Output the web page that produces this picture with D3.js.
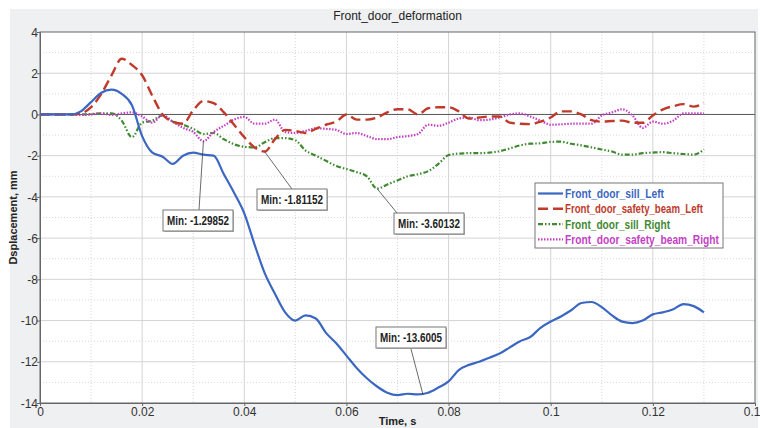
<!DOCTYPE html>
<html>
<head>
<meta charset="utf-8">
<script src="https://cdn.jsdelivr.net/npm/d3@7"></script>
<style>
  body { margin: 0; background: #fff; }
  text { font-family: "Liberation Sans", Arial, sans-serif; }
</style>
</head>
<body>
<svg id="chart"></svg>
<script>
// Time samples (s)
var times = [0, 0.002, 0.004, 0.006, 0.008, 0.010, 0.012, 0.014, 0.016, 0.018,
  0.020, 0.022, 0.024, 0.026, 0.028, 0.030, 0.032, 0.034, 0.036, 0.038,
  0.040, 0.042, 0.044, 0.046, 0.048, 0.050, 0.052, 0.054, 0.056, 0.058,
  0.060, 0.062, 0.064, 0.066, 0.068, 0.070, 0.072, 0.074, 0.076, 0.078,
  0.080, 0.082, 0.084, 0.086, 0.088, 0.090, 0.092, 0.094, 0.096, 0.098,
  0.100, 0.102, 0.104, 0.106, 0.108, 0.110, 0.112, 0.114, 0.116, 0.118,
  0.120, 0.122, 0.124, 0.126, 0.128, 0.130];

var sillLeft = [0, 0, 0, 0, 0.15, 0.6, 1.05, 1.2, 1.0, 0.45,
  -1.05, -1.85, -2.05, -2.4, -2.0, -1.85, -1.95, -2.0, -2.9, -3.8,
  -4.8, -6.3, -7.7, -8.7, -9.6, -10.0, -9.75, -9.9, -10.6, -11.1,
  -11.7, -12.3, -12.8, -13.2, -13.5, -13.62, -13.55, -13.58, -13.5, -13.25,
  -12.95, -12.4, -12.15, -12.0, -11.8, -11.6, -11.3, -11.0, -10.8, -10.35,
  -10.05, -9.8, -9.5, -9.15, -9.1, -9.35, -9.75, -10.05, -10.12, -10.0,
  -9.7, -9.6, -9.45, -9.2, -9.3, -9.6];

var beamLeft = [0, 0, 0, 0, 0.05, 0.35, 1.0, 1.9, 2.7, 2.4,
  1.9, 0.9, 0.0, -0.35, -0.45, 0.2, 0.65, 0.55, 0.1, -0.5,
  -1.1, -1.6, -1.8, -1.2, -0.75, -0.8, -0.9, -0.7, -0.5, -0.35,
  0.0, -0.25, -0.25, -0.15, 0.1, 0.25, 0.25, 0.0, 0.3, 0.35,
  0.35, 0.15, -0.2, -0.15, -0.1, -0.1, -0.4, -0.45, -0.47, -0.35,
  -0.15, 0.15, 0.15, 0.0, -0.28, -0.35, -0.32, -0.3, -0.4, -0.4,
  -0.05, 0.25, 0.4, 0.5, 0.38, 0.55];

var sillRight = [0, 0, 0, 0, 0, 0.02, 0.05, 0.05, -0.3, -1.1,
  -0.4, -0.3, -0.05, -0.35, -0.5, -0.7, -0.95, -0.9, -1.2, -1.45,
  -1.57, -1.6, -1.35, -1.15, -1.15, -1.25, -1.75, -2.0, -2.25, -2.5,
  -2.65, -2.8, -3.0, -3.6, -3.4, -3.2, -3.0, -2.9, -2.75, -2.4,
  -1.97, -1.9, -1.88, -1.88, -1.85, -1.78, -1.65, -1.5, -1.42, -1.4,
  -1.33, -1.32, -1.42, -1.5, -1.6, -1.7, -1.8, -1.95, -1.95, -1.88,
  -1.85, -1.83, -1.88, -1.92, -1.95, -1.7];

var beamRight = [0, 0, 0, 0, -0.03, 0.0, 0.05, -0.03, 0.05, 0.1,
  -0.1, -0.4, -0.03, -0.35, -0.65, -0.85, -1.3, -0.85, -0.55, -0.25,
  -0.12, -0.45, -0.45, -0.25, -0.85, -0.9, -0.8, -0.67, -0.7, -0.75,
  -0.95, -0.9, -1.05, -1.2, -1.2, -1.1, -1.05, -0.95, -0.5, -0.55,
  -0.4, -0.2, -0.15, -0.28, -0.25, -0.15, 0.0, 0.05, -0.1, -0.3,
  -0.5, -0.48, -0.45, -0.45, -0.45, -0.05, 0.1, 0.25, -0.05, -0.65,
  -0.35, -0.45, -0.3, 0.05, 0.05, 0.05];

var seriesNames = ["Front_door_sill_Left", "Front_door_safety_beam_Left",
  "Front_door_sill_Right", "Front_door_safety_beam_Right"];

var xTicks = [0, 0.02, 0.04, 0.06, 0.08, 0.1, 0.12, 0.14];
var yTicks = [4, 2, 0, -2, -4, -6, -8, -10, -12, -14];

// Min annotations: [time, value, label]
var minLabels = [
  [0.032, -1.3, "Min: -1.29852"],
  [0.044, -1.81, "Min: -1.81152"],
  [0.066, -3.6, "Min: -3.60132"],
  [0.075, -13.6, "Min: -13.6005"]
];

var width = 760, height = 428;
var margin = {top: 32, right: 5, bottom: 25, left: 40};

var svg = d3.select("#chart").attr("width", width).attr("height", height);

// gray panel
svg.append("rect").attr("x", 10).attr("y", 9).attr("width", 748).attr("height", 419)
   .attr("fill", "#eff0f1");

var x = d3.scaleLinear().domain([0, 0.14]).range([margin.left, width - margin.right]);
var y = d3.scaleLinear().domain([-14, 4]).range([height - margin.bottom, margin.top]);

svg.append("rect")
   .attr("x", x(0)).attr("y", y(4))
   .attr("width", x(0.14) - x(0)).attr("height", y(-14) - y(4))
   .attr("fill", "#fff");

// minor grid (dotted)
var grid = svg.append("g");
for (var i = 1; i < 14; i += 2) {
  grid.append("line").attr("x1", x(i / 100)).attr("x2", x(i / 100))
      .attr("y1", y(4)).attr("y2", y(-14))
      .attr("stroke", "#d8d8d8").attr("stroke-dasharray", "1,2");
}
for (var j = -13; j < 4; j += 2) {
  grid.append("line").attr("y1", y(j)).attr("y2", y(j))
      .attr("x1", x(0)).attr("x2", x(0.14))
      .attr("stroke", "#d8d8d8").attr("stroke-dasharray", "1,2");
}
// major grid
xTicks.slice(1, -1).forEach(function(t) {
  grid.append("line").attr("x1", x(t)).attr("x2", x(t))
      .attr("y1", y(4)).attr("y2", y(-14)).attr("stroke", "#d4d4d4");
});
yTicks.slice(1, -1).forEach(function(t) {
  grid.append("line").attr("y1", y(t)).attr("y2", y(t))
      .attr("x1", x(0)).attr("x2", x(0.14))
      .attr("stroke", t === 0 ? "#555" : "#d4d4d4");
});

// plot frame
svg.append("rect")
   .attr("x", x(0)).attr("y", y(4))
   .attr("width", x(0.14) - x(0)).attr("height", y(-14) - y(4))
   .attr("fill", "none").attr("stroke", "#666");

// axes
var xAxis = svg.append("g")
   .attr("transform", "translate(0," + y(-14) + ")")
   .call(d3.axisBottom(x).tickValues(xTicks).tickSize(3).tickFormat(function(d) { return String(d); }));
var yAxis = svg.append("g")
   .attr("transform", "translate(" + x(0) + ",0)")
   .call(d3.axisLeft(y).tickValues(yTicks).tickSize(3).tickFormat(function(d) { return String(d); }));
[xAxis, yAxis].forEach(function(a) {
  a.select(".domain").attr("stroke", "#666");
  a.selectAll(".tick line").attr("stroke", "#666");
  a.selectAll(".tick text").attr("font-size", 12).attr("fill", "#333")
   .attr("font-family", "Liberation Sans, Arial, sans-serif");
});
yAxis.selectAll(".tick text").attr("x", -2).attr("dy", "0.35em");
xAxis.selectAll(".tick text").attr("y", 4);

// titles
var midX = (x(0) + x(0.14)) / 2;
svg.append("text").attr("x", midX).attr("y", 20).attr("text-anchor", "middle")
   .attr("font-size", 12).attr("fill", "#222").text("Front_door_deformation");
svg.append("text").attr("x", midX).attr("y", 425).attr("text-anchor", "middle")
   .attr("font-size", 11).attr("font-weight", "bold").attr("fill", "#222").text("Time, s");
svg.append("text").attr("transform", "translate(17," + ((y(4) + y(-14)) / 2) + ") rotate(-90)")
   .attr("text-anchor", "middle").attr("font-size", 11).attr("font-weight", "bold")
   .attr("fill", "#222").text("Dsplacement, mm");

// series
var colors = ["#3b67c2", "#c03a2b", "#3f8a31", "#c43fc4"];
var dashes = [null, "10,5", "5,2,1.5,2,1.5,2", "1.5,1.5"];
var widths = [2.2, 2.4, 2.2, 2.2];
var order = [2, 3, 1, 0];

var line = d3.line()
   .x(function(d, i) { return x(times[i]); })
   .y(function(d) { return y(d); })
   .curve(d3.curveMonotoneX);

var seriesData = [sillLeft, beamLeft, sillRight, beamRight];
order.forEach(function(k) {
  svg.append("path").datum(seriesData[k])
     .attr("d", line)
     .attr("fill", "none")
     .attr("stroke", colors[k])
     .attr("stroke-width", widths[k])
     .attr("stroke-dasharray", dashes[k]);
});

// annotations: box left, box top, connector x
var boxes = [[163, 210, 199], [257, 189, 292], [394, 213, 397], [376, 327, 411]];
minLabels.forEach(function(m, i) {
  var b = boxes[i];
  var g = svg.append("g");
  var bw = 70;
  var ly = b[1];
  if (m[1] < y.invert(b[1])) ly = b[1] + 22;
  g.append("line")
   .attr("x1", x(m[0])).attr("y1", y(m[1]))
   .attr("x2", b[2]).attr("y2", ly)
   .attr("stroke", "#444").attr("stroke-width", 0.8);
  g.append("rect").attr("x", b[0] + 1).attr("y", b[1] + 1).attr("width", bw).attr("height", 21)
   .attr("fill", "#bbb");
  g.append("rect").attr("x", b[0]).attr("y", b[1]).attr("width", bw).attr("height", 21)
   .attr("fill", "#fff").attr("stroke", "#777");
  g.append("text").attr("x", b[0] + bw / 2).attr("y", b[1] + 15)
   .attr("text-anchor", "middle").attr("font-size", 12).attr("font-weight", "bold")
   .attr("textLength", 62).attr("lengthAdjust", "spacingAndGlyphs")
   .attr("fill", "#222").text(m[2]);
});

// legend
var legendWidths = [99, 138, 105, 154];
var lg = svg.append("g").attr("transform", "translate(535,183)");
lg.append("rect").attr("width", 188).attr("height", 65)
  .attr("fill", "#fff").attr("stroke", "#777");
seriesNames.forEach(function(name, k) {
  var ly = 10.5 + k * 15.3;
  lg.append("line").attr("x1", 3).attr("x2", 28).attr("y1", ly).attr("y2", ly)
    .attr("stroke", colors[k]).attr("stroke-width", widths[k])
    .attr("stroke-dasharray", dashes[k]);
  lg.append("text").attr("x", 30).attr("y", ly + 4.5)
    .attr("font-size", 12).attr("font-weight", "bold").attr("fill", colors[k])
    .attr("textLength", legendWidths[k]).attr("lengthAdjust", "spacingAndGlyphs")
    .text(name);
});
</script>
</body>
</html>
